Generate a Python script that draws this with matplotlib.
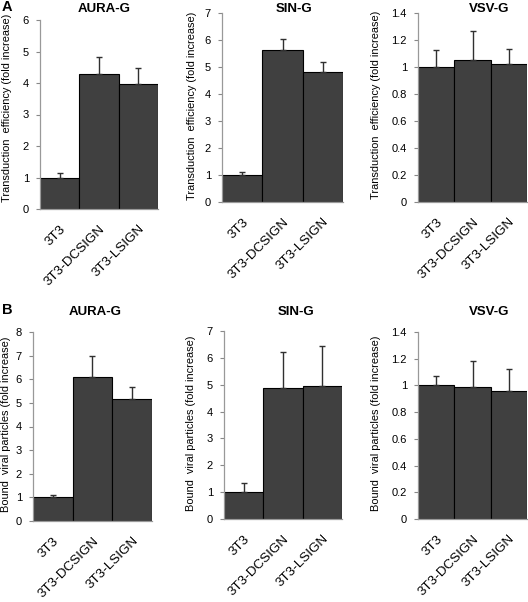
import matplotlib
matplotlib.use("Agg")
import matplotlib.pyplot as plt
import matplotlib.transforms as mtransforms
import numpy as np

plt.rcParams['font.family'] = ['Liberation Sans', 'DejaVu Sans']

categories = ["3T3", "3T3-DCSIGN", "3T3-LSIGN"]

titles = ["AURA-G", "SIN-G", "VSV-G"]

# Panel A: transduction efficiency
a_aura = [1.0, 4.30, 3.97]
a_aura_err = [0.15, 0.52, 0.52]
a_sin = [1.0, 5.62, 4.80]
a_sin_err = [0.10, 0.42, 0.38]
a_vsv = [1.0, 1.05, 1.025]
a_vsv_err = [0.125, 0.22, 0.11]

# Panel B: bound viral particles
b_aura = [1.0, 6.10, 5.17]
b_aura_err = [0.08, 0.90, 0.50]
b_sin = [1.0, 4.88, 4.95]
b_sin_err = [0.33, 1.32, 1.50]
b_vsv = [1.0, 0.99, 0.955]
b_vsv_err = [0.07, 0.19, 0.165]

ylims = [(0, 6, 1), (0, 7, 1), (0, 1.4, 0.2)]
ylims_b = [(0, 8, 1), (0, 7, 1), (0, 1.4, 0.2)]

W, H = 528, 602
fig = plt.figure(figsize=(W / 100, H / 100), dpi=100)

# pixel boxes: left, right, top, bottom
boxes_a = [(40, 158, 20, 209), (222, 343, 13, 202), (418, 527, 13, 202)]
boxes_b = [(33, 152, 332, 521), (224, 342, 331, 519), (418, 527, 332, 519)]
# title centers (x, y) and ylabel centers (x, y) in pixels
title_pos_a = [(104, 9), (294, 9), (489, 9)]
title_pos_b = [(95, 312), (296, 312), (489, 312)]
ylab_pos_a = [(7, 108), (192, 106), (376, 105)]
ylab_pos_b = [(6, 424), (191, 423), (376, 423)]

def make_ax(box):
    l, r, t, b = box
    return fig.add_axes([l / W, (H - b) / H, (r - l) / W, (b - t) / H])

def draw(ax, vals, errs, title, tpos, lim, ylabel, ypos):
    x = np.arange(len(categories))
    ax.bar(x, vals, width=1.0, color="#404040", edgecolor="black", linewidth=0.8, zorder=2)
    ax.errorbar(x, vals, yerr=[np.zeros(len(errs)), errs], fmt="none", ecolor="#303030",
                elinewidth=1.0, capsize=2.5, capthick=1.0, zorder=3)
    ax.set_xlim(-0.5, 2.5)
    lo, hi, step = lim
    ax.set_ylim(lo, hi)
    ticks = np.arange(lo, hi + step / 2, step)
    ax.set_yticks(ticks)
    ax.set_yticklabels([("%g" % round(t, 1)) for t in ticks])
    ax.set_xticks(x)
    offset = mtransforms.ScaledTranslation(3 / 100, 0, fig.dpi_scale_trans)
    for lab in ax.set_xticklabels(categories, rotation=45, ha="right", va="top",
                                  rotation_mode="anchor", fontsize=9.7):
        lab.set_transform(lab.get_transform() + offset)
    ax.tick_params(axis="x", length=0, pad=10)
    ax.tick_params(axis="y", length=3, width=0.8, color="#888888", labelsize=8, pad=5)
    for s in ["top", "right"]:
        ax.spines[s].set_visible(False)
    for s in ["left", "bottom"]:
        ax.spines[s].set_color("#999999")
        ax.spines[s].set_linewidth(0.9)
    fig.text(tpos[0] / W, 1 - tpos[1] / H, title, fontsize=9.5, fontweight="bold",
             ha="center", va="center")
    fig.text(ypos[0] / W, 1 - ypos[1] / H, ylabel, fontsize=7.9, rotation=90,
             ha="center", va="center")

ylab_a = "Transduction  efficiency (fold increase)"
ylab_b = "Bound  viral particles (fold increase)"

for box, vals, errs, title, tp, lim, yp in zip(boxes_a, [a_aura, a_sin, a_vsv], [a_aura_err, a_sin_err, a_vsv_err],
                                               titles, title_pos_a, ylims, ylab_pos_a):
    draw(make_ax(box), vals, errs, title, tp, lim, ylab_a, yp)
for box, vals, errs, title, tp, lim, yp in zip(boxes_b, [b_aura, b_sin, b_vsv], [b_aura_err, b_sin_err, b_vsv_err],
                                               titles, title_pos_b, ylims_b, ylab_pos_b):
    draw(make_ax(box), vals, errs, title, tp, lim, ylab_b, yp)

fig.text(2 / W, 1 - 7 / H, "A", fontsize=10.5, fontweight="bold", va="center", ha="left")
fig.text(2 / W, 1 - 310 / H, "B", fontsize=10.5, fontweight="bold", va="center", ha="left")

fig.savefig("out.png", dpi=100)
